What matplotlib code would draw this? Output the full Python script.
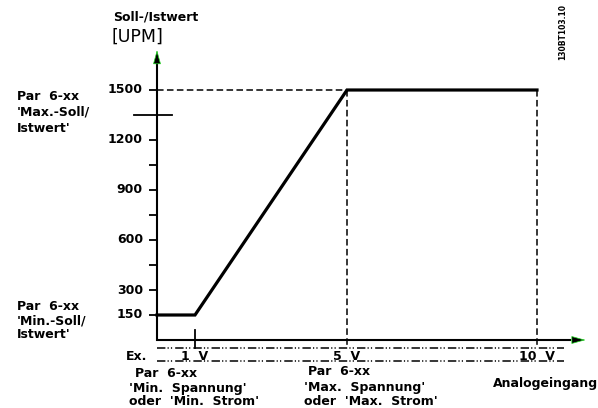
import matplotlib
matplotlib.use('Agg')
import matplotlib.pyplot as plt

# characteristic curve: analog input [V] -> reference [UPM]
volts = [0, 1, 5, 10]
upm = [150, 150, 1500, 1500]

ytick_major = [150, 300, 600, 900, 1200, 1500]
ytick_minor = [450, 750, 1050]
ytick_long = 1350
xmarks = [1, 5, 10]
xmark_labels = ['1  V', '5  V', '10  V']

FONT = 'DejaVu Sans'
FS = 9


def lines(ax, x, ys, texts, **kw):
    for y, t in zip(ys, texts):
        ax.text(x, y, t, va='baseline', ha='left', fontsize=FS,
                fontweight='bold', family=FONT, **kw)


def arrow(ax, tip, start, head_from):
    ax.plot([start[0], head_from[0]], [start[1], head_from[1]],
            color='black', lw=1.5, solid_capstyle='butt')
    ax.annotate('', xy=tip, xytext=head_from,
                arrowprops=dict(arrowstyle='-|>,head_length=0.9,head_width=0.25',
                                lw=0.5, fc='black', ec='#22dd22',
                                shrinkA=0, shrinkB=0))


fig = plt.figure(figsize=(5.98, 4.08), dpi=100)
ax = fig.add_axes([0, 0, 1, 1])
# 1 V = 38 px, 1 UPM = 1/6 px; origin at pixel (157, 340)
ax.set_xlim(-157 / 38, (598 - 157) / 38)
ax.set_ylim(-(408 - 340) * 6, 340 * 6)
ax.axis('off')

# axes with arrows
arrow(ax, (0, 1740), (0, -4), (0, 1660))
arrow(ax, (11.28, 0), (-0.03, 0), (10.9, 0))

# y ticks
for v in ytick_major + ytick_minor:
    ax.plot([-0.2, 0], [v, v], color='black', lw=1.3, solid_capstyle='butt')
for v in ytick_major:
    ax.text(-0.37, v, str(v), ha='right', va='center', fontsize=FS,
            fontweight='bold', family=FONT)
ax.plot([-0.6, 0.4], [ytick_long, ytick_long], color='black', lw=1.3)

# dashed guides
dash = (0, (4.3, 2.2))
ax.plot([0, 5], [1500, 1500], color='black', lw=1.1, ls=dash)
for xv in [5, 10]:
    ax.plot([xv, xv], [1500, -48], color='black', lw=1.1, ls=dash)
ax.plot([1, 1], [60, -48], color='black', lw=1.3)

# curve
ax.plot(volts, upm, color='black', lw=2.3, solid_joinstyle='miter')

# dash-dot-dot rails under x axis
rail = (0, (5.5, 1.4, 0.8, 1.4, 0.8, 2.0))
for yv in [-48, -126]:
    ax.plot([0, 10.7], [yv, yv], color='black', lw=1.1, ls=rail)
for xv, t in zip(xmarks, xmark_labels):
    ax.text(xv, -120, t, ha='center', va='baseline', fontsize=FS,
            fontweight='bold', family=FONT)
ax.text(-0.82, -120, 'Ex.', ha='left', va='baseline', fontsize=FS,
        fontweight='bold', family=FONT)

# axis title
ax.text(-1.16, 1914, 'Soll-/Istwert', ha='left', va='baseline', fontsize=FS,
        fontweight='bold', family=FONT)
ax.text(-1.19, 1788, '[UPM]', ha='left', va='baseline', fontsize=12.5,
        family=FONT)

# parameter annotations
lines(ax, -3.68, [1440, 1344, 1248], ['Par  6-xx', "'Max.-Soll/", "Istwert'"])
lines(ax, -3.68, [180, 93, 12], ['Par  6-xx', "'Min.-Soll/", "Istwert'"])
lines(ax, -0.58, [-222], ['Par  6-xx'])
lines(ax, -0.74, [-312, -392], ["'Min.  Spannung'", "oder  'Min.  Strom'"])
lines(ax, 3.98, [-210], ['Par  6-xx'])
lines(ax, 3.87, [-306, -392], ["'Max.  Spannung'", "oder  'Max.  Strom'"])
lines(ax, 8.84, [-282], ['Analogeingang'])

ax.text(10.68, 1848, '130BT103.10', rotation=90, ha='center', va='center',
        fontsize=5.5, fontweight='bold', family=FONT)

fig.savefig('out.png', dpi=100)
